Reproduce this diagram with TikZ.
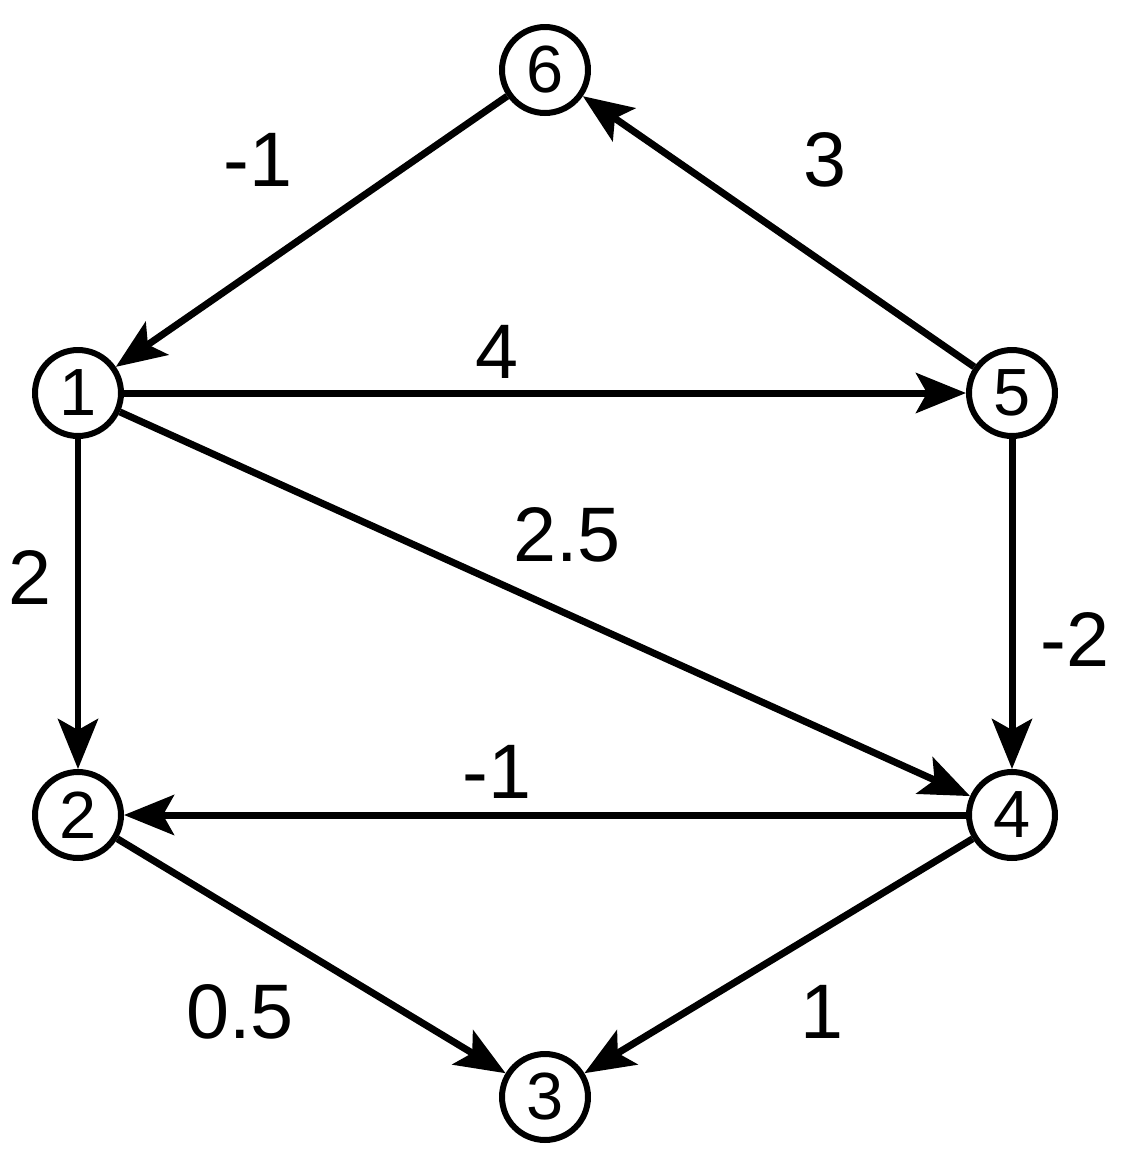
\documentclass[tikz,border=0pt]{standalone}
\usepackage{fontspec}
\setmainfont{Liberation Sans}
\usetikzlibrary{arrows.meta}
\begin{document}
\begin{tikzpicture}[x=0.02cm,y=-0.02cm,
  vert/.style={circle,draw,line width=0.12cm,minimum size=1.72cm,inner sep=0pt,font=\fontsize{38}{38}\selectfont},
  edge/.style={line width=0.14cm,-{Stealth[length=1.0cm,width=0.8cm,inset=0.22cm]}},
  lbl/.style={font=\fontsize{44}{44}\selectfont}]
\useasboundingbox (0,0) rectangle (1125,1164);
\node[vert] (n6) at (545,70) {6};
\node[vert] (n1) at (78,393) {1};
\node[vert] (n5) at (1012,393) {5};
\node[vert] (n2) at (78,815) {2};
\node[vert] (n4) at (1012,815) {4};
\node[vert] (n3) at (545,1097) {3};
\draw[edge] (n6) -- (n1);
\draw[edge] (n5) -- (n6);
\draw[edge] (n1) -- (n5);
\draw[edge] (n1) -- (n4);
\draw[edge] (n1) -- (n2);
\draw[edge] (n5) -- (n4);
\draw[edge] (n4) -- (n2);
\draw[edge] (n2) -- (n3);
\draw[edge] (n4) -- (n3);
\node[lbl] (l61) at (258,160) {-1};
\node[lbl] (l56) at (825,160) {3};
\node[lbl] (l15) at (497,352) {4};
\node[lbl] (l14) at (567,535) {2.5};
\node[lbl] (l12) at (30,578) {2};
\node[lbl] (l54) at (1075,640) {-2};
\node[lbl] (l42) at (497,772) {-1};
\node[lbl] (l23) at (240,1012) {0.5};
\node[lbl] (l43) at (822,1012) {1};
\end{tikzpicture}
\end{document}
